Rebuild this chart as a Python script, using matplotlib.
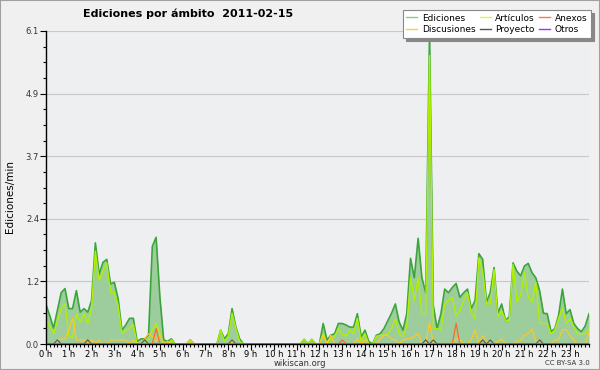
import matplotlib
matplotlib.use("Agg")
import matplotlib.pyplot as plt
from matplotlib.lines import Line2D
from matplotlib.patches import Rectangle
from matplotlib.ticker import FixedLocator, MultipleLocator, AutoMinorLocator, FuncFormatter
import numpy as np

# ediciones por minuto, una muestra cada 10 minutos (144 muestras)
ediciones = [
    0.77, 0.55, 0.31, 0.65, 1.0, 1.08, 0.69, 0.69, 1.04, 0.62, 0.69, 0.62,
    0.85, 1.97, 1.36, 1.59, 1.65, 1.17, 1.2, 0.88, 0.27, 0.37, 0.5, 0.5,
    0.05, 0.1, 0.1, 0.17, 1.9, 2.08, 0.91, 0.08, 0.05, 0.1, 0, 0,
    0, 0, 0.08, 0, 0, 0, 0, 0, 0, 0, 0.27, 0.1,
    0.2, 0.69, 0.33, 0.1, 0, 0, 0, 0, 0, 0, 0, 0,
    0, 0, 0, 0, 0, 0, 0, 0, 0.09, 0, 0.09, 0,
    0, 0.4, 0.08, 0.17, 0.2, 0.4, 0.4, 0.37, 0.33, 0.33, 0.59, 0.14,
    0.27, 0.05, 0, 0.17, 0.2, 0.3, 0.45, 0.6, 0.78, 0.43, 0.27, 0.59,
    1.67, 1.29, 2.06, 1.29, 1.0, 6.04, 0.75, 0.3, 0.59, 1.07, 1.0, 1.1,
    1.18, 0.91, 1.0, 1.07, 0.69, 0.85, 1.76, 1.65, 0.82, 1.0, 1.49, 0.6,
    0.78, 0.46, 0.53, 1.58, 1.42, 1.33, 1.52, 1.57, 1.39, 1.29, 1.04, 0.6,
    0.59, 0.24, 0.3, 0.56, 1.07, 0.59, 0.67, 0.4, 0.3, 0.24, 0.35, 0.59,
]
articulos = [
    0.47, 0.35, 0.2, 0.45, 0.69, 0.78, 0.17, 0.12, 0.59, 0.43, 0.59, 0.4,
    0.7, 1.81, 1.23, 1.42, 1.58, 1.0, 1.0, 0.75, 0.2, 0.27, 0.3, 0.38,
    0, 0, 0, 0.1, 0.27, 0.4, 0.2, 0, 0, 0.08, 0, 0,
    0, 0, 0.05, 0, 0, 0, 0, 0, 0, 0, 0.27, 0.05,
    0.15, 0.6, 0.3, 0.05, 0, 0, 0, 0, 0, 0, 0, 0,
    0, 0, 0, 0, 0, 0, 0, 0, 0.09, 0, 0.09, 0,
    0, 0.2, 0, 0.1, 0.15, 0.3, 0.2, 0.15, 0.27, 0.2, 0.5, 0.05,
    0.2, 0, 0, 0.15, 0.17, 0.17, 0.2, 0.3, 0.49, 0.2, 0.15, 0.33,
    1.29, 0.85, 1.29, 0.59, 0.59, 5.62, 0.3, 0.3, 0.27, 0.78, 0.85, 0.91,
    0.55, 0.65, 0.85, 1.0, 0.62, 0.49, 1.68, 1.42, 0.78, 0.78, 1.45, 0.53,
    0.65, 0.46, 0.46, 1.55, 0.82, 0.95, 1.39, 0.91, 0.82, 1.2, 0.4, 0.4,
    0.4, 0.2, 0.27, 0.5, 0.69, 0.4, 0.5, 0.33, 0.2, 0.2, 0.2, 0.3,
]
discusiones = [
    0, 0, 0, 0.08, 0.1, 0.1, 0.27, 0.5, 0.08, 0.08, 0.08, 0,
    0.08, 0, 0.08, 0, 0, 0.08, 0.08, 0.08, 0.08, 0.08, 0, 0.08,
    0, 0, 0.1, 0.2, 0.15, 0.05, 0.2, 0, 0.05, 0, 0, 0,
    0, 0, 0.08, 0, 0, 0, 0, 0, 0, 0, 0, 0,
    0, 0.05, 0, 0, 0, 0, 0, 0, 0, 0, 0, 0,
    0, 0, 0, 0, 0, 0, 0, 0, 0, 0, 0, 0,
    0, 0.17, 0, 0.17, 0, 0, 0, 0, 0, 0, 0.1, 0,
    0.08, 0, 0, 0, 0.1, 0.17, 0.17, 0.1, 0.08, 0, 0.08, 0.1,
    0.1, 0.15, 0.2, 0, 0, 0.43, 0, 0, 0, 0, 0, 0,
    0.1, 0.08, 0, 0, 0.08, 0.28, 0, 0.17, 0.05, 0, 0, 0.05,
    0.1, 0, 0, 0, 0.05, 0.08, 0.17, 0.2, 0.29, 0.05, 0.08, 0,
    0, 0, 0.08, 0.08, 0.28, 0.28, 0.17, 0.08, 0, 0, 0, 0.22,
]
proyecto = [0.0] * 144
for i in [3, 11, 26, 49, 100, 102, 115, 117, 130]:
    proyecto[i] = 0.08
anexos = [0.0] * 144
anexos[29] = 0.3
anexos[78] = 0.08
anexos[108] = 0.4
otros = [0.0] * 144

horas = np.arange(144) / 6.0
etiquetas_y = np.linspace(0, 6.1, 6)

fig = plt.figure(figsize=(6, 3.7), dpi=100, facecolor="#f0f0f0")
ax = fig.add_axes([46 / 600, 1 - 344 / 370, (589 - 46) / 600, (344 - 31) / 370])
ax.set_facecolor("#eeeff1")

ax.fill_between(horas, ediciones, color="#9dcc9d", lw=0)
ax.plot(horas, ediciones, color="#3aa53a", lw=1.2)
ax.plot(horas, articulos, color="#b0f000", lw=1.0)
ax.plot(horas, discusiones, color="#ffc726", lw=0.9)
ax.plot(horas, proyecto, color="#555555", lw=0.8)
ax.plot(horas, anexos, color="#ff6a2a", lw=0.9)
ax.plot(horas, otros, color="#9933ff", lw=0.8)

ax.set_xlim(0, 143 / 6)
ax.set_ylim(0, 6.1)
ax.xaxis.set_major_locator(MultipleLocator(1))
ax.xaxis.set_minor_locator(MultipleLocator(1 / 6))
ax.xaxis.set_major_formatter(FuncFormatter(lambda v, p: "%d h" % round(v)))
ax.yaxis.set_major_locator(FixedLocator(etiquetas_y))
ax.yaxis.set_minor_locator(AutoMinorLocator(4))
ax.yaxis.set_major_formatter(FuncFormatter(lambda v, p: "%.1f" % v))
ax.tick_params(axis="both", which="major", direction="out", length=4, width=0.8,
               labelsize=6, pad=1, colors="black")
ax.tick_params(axis="x", which="major", pad=0)
ax.tick_params(axis="both", which="minor", direction="out", length=2.5, width=0.8)
ax.tick_params(axis="y", labelcolor="#333333")
ax.grid(True, axis="y", color="#c8c8c8", lw=0.8)
ax.set_axisbelow(True)
for s in ["top", "right"]:
    ax.spines[s].set_visible(False)
ax.spines["left"].set_linewidth(1.0)
ax.spines["bottom"].set_linewidth(1.0)
ax.set_ylabel("Ediciones/min", fontsize=7.5)
ax.yaxis.set_label_coords(-0.058, 0.47)

fig.text(188 / 600, 1 - 14 / 370, "Ediciones por ámbito  2011-02-15",
         ha="center", va="center", fontsize=8, weight="bold")
fig.text(300 / 600, 1 - 363.5 / 370, "wikiscan.org", ha="center", va="center",
         fontsize=6, color="#333333")
fig.text(590 / 600, 1 - 363 / 370, "CC BY-SA 3.0", ha="right", va="center",
         fontsize=5, color="#333333")

handles = [
    Line2D([], [], color="#88cc88", lw=1),
    Line2D([], [], color="#ffcc44", lw=1),
    Line2D([], [], color="#ccff44", lw=1),
    Line2D([], [], color="#555555", lw=1),
    Line2D([], [], color="#ff7744", lw=1),
    Line2D([], [], color="#9933ff", lw=1),
]
nombres = ["Ediciones", "Discusiones", "Artículos", "Proyecto", "Anexos", "Otros"]
leg = fig.legend(handles, nombres, ncol=3, loc="upper right",
                 bbox_to_anchor=(591 / 600, 1 - 10 / 370), fontsize=6.5,
                 frameon=True, fancybox=False, handlelength=1.2,
                 handletextpad=0.5, columnspacing=0.5, labelspacing=0.3,
                 borderpad=0.4, borderaxespad=0,
                 shadow={"color": "#888888", "alpha": 1})
leg.get_frame().set_edgecolor("#888888")
leg.get_frame().set_linewidth(0.8)
leg.get_frame().set_facecolor("white")

fig.patches.append(Rectangle((0, 0), 1, 1, transform=fig.transFigure,
                             fill=False, edgecolor="#a0a0a0", lw=1.5))

fig.savefig("out.png", dpi=100, facecolor=fig.get_facecolor())
